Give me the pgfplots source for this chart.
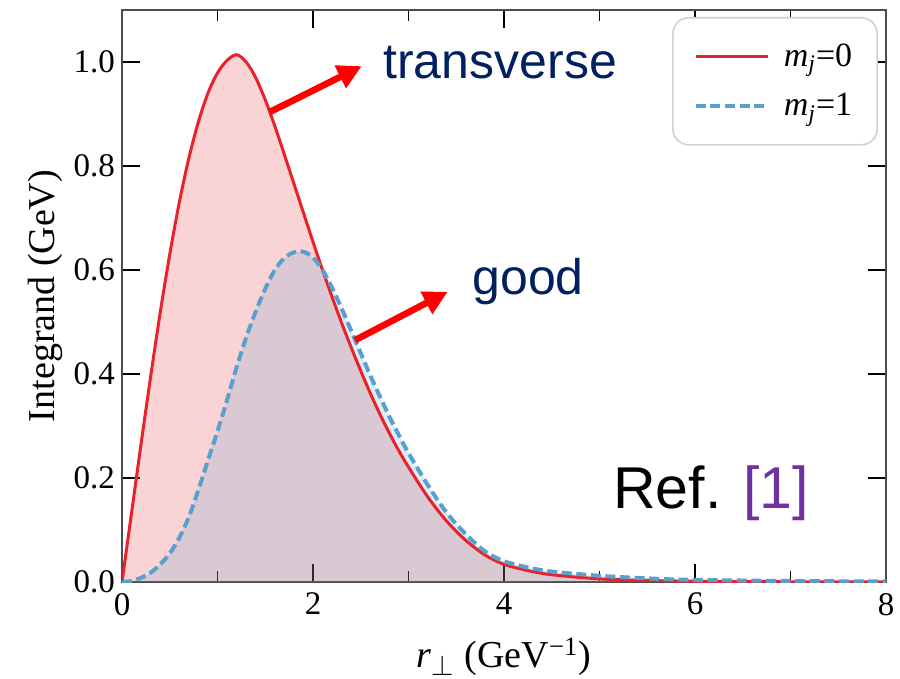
\documentclass[border=0pt]{standalone}
\usepackage{fontspec}
\setmainfont{Liberation Serif}
\newfontfamily\annofont{Liberation Sans}
\usepackage{pgfplots}
\pgfplotsset{compat=1.18}
\usepackage{pgfplotstable}
\usetikzlibrary{arrows.meta}

\definecolor{mjzero}{HTML}{E8212B}
\definecolor{mjone}{HTML}{5AA0CF}
\definecolor{navy}{HTML}{002060}
\definecolor{refpurple}{HTML}{7030A0}

% integrand for m_j = 0 (transverse)
\pgfplotstableread{
r v
0.0 0.000
0.1 0.133
0.2 0.266
0.3 0.395
0.4 0.518
0.5 0.630
0.6 0.730
0.7 0.815
0.8 0.885
0.9 0.940
1.0 0.979
1.1 1.003
1.2 1.014
1.3 1.000
1.4 0.970
1.5 0.927
1.6 0.877
1.7 0.822
1.8 0.766
1.9 0.710
2.0 0.654
2.1 0.600
2.2 0.548
2.3 0.498
2.4 0.451
2.5 0.406
2.6 0.363
2.7 0.323
2.8 0.286
2.9 0.252
3.0 0.221
3.2 0.164
3.4 0.117
3.6 0.080
3.8 0.052
4.0 0.034
4.25 0.022
4.5 0.014
5.0 0.006
5.5 0.003
6.0 0.0015
7.0 0.0004
8.0 0.0001
}\redtab

% integrand for m_j = 1 (good)
\pgfplotstableread{
r v
0.0 0.000
0.1 0.002
0.2 0.008
0.3 0.018
0.4 0.034
0.5 0.055
0.6 0.085
0.7 0.125
0.8 0.177
0.9 0.234
1.0 0.290
1.1 0.350
1.2 0.413
1.3 0.470
1.4 0.520
1.5 0.564
1.6 0.600
1.7 0.623
1.8 0.634
1.9 0.635
2.0 0.624
2.1 0.600
2.2 0.566
2.3 0.526
2.4 0.483
2.5 0.440
2.6 0.397
2.7 0.357
2.8 0.318
2.9 0.282
3.0 0.248
3.2 0.187
3.4 0.133
3.6 0.092
3.8 0.059
4.0 0.040
4.25 0.028
4.5 0.020
5.0 0.012
5.5 0.007
6.0 0.004
7.0 0.002
8.0 0.001
}\bluetab

\begin{document}
\begin{tikzpicture}
\begin{axis}[
  name=ax,
  scale only axis,
  width=382pt, height=286pt,
  xmin=0, xmax=8, ymin=0, ymax=1.1,
  xtick={0,2,4,6,8},
  minor xtick={1,3,5,7},
  ytick={0,0.2,0.4,0.6,0.8,1.0},
  tick align=inside,
  major tick length=9pt,
  minor tick length=5.5pt,
  every tick/.style={black, line width=0.9pt},
  axis line style={line width=1.3pt, draw=black!70},
  /pgf/number format/assume math mode=true,
  yticklabel style={/pgf/number format/fixed, /pgf/number format/fixed zerofill, /pgf/number format/precision=1},
  tick label style={font=\fontsize{16.5}{18}\selectfont},
  xticklabel style={yshift=-2pt},
  xlabel={\textit{r}\textsubscript{$\perp$} (GeV\textsuperscript{−1})},
  xlabel style={at={(axis description cs:0.5,-0.150)}, anchor=base, font=\fontsize{19}{22}\selectfont},
  ylabel={Integrand (GeV)},
  ylabel style={at={(axis description cs:-0.069,0.5)}, anchor=south, rotate=0, font=\fontsize{19}{22}\selectfont},
  legend style={at={(axis description cs:0.9895,0.9878)}, anchor=north east,
    draw=black!18, line width=0.8pt, rounded corners=8pt,
    font=\fontsize{17}{20}\selectfont,
    inner xsep=10.5pt, inner ysep=11pt, row sep=8pt,
    /tikz/every odd column/.style={column sep=5pt},
    cells={anchor=west}},
  legend image code/.code={\draw[#1] (0pt,0pt) -- (36pt,0pt);},
]
% shaded areas under both curves
\addplot[draw=none, fill=mjzero, fill opacity=0.2, smooth, forget plot] table[x=r, y=v]{\redtab} \closedcycle;
\addplot[draw=none, fill=mjone, fill opacity=0.2, smooth, forget plot] table[x=r, y=v]{\bluetab} \closedcycle;
% curves
\addplot[mjzero, line width=1.5pt, smooth] table[x=r, y=v]{\redtab};
\addlegendentry{\textit{m}\textsubscript{\textit{j}}=0}
\addplot[mjone, line width=2pt, dash pattern=on 5pt off 2.3pt, smooth] table[x=r, y=v]{\bluetab};
\addlegendentry{\textit{m}\textsubscript{\textit{j}}=1}

% annotations
\draw[red, line width=3.3pt, -{Triangle[length=12pt, width=12pt]}] (axis cs:1.55,0.904) -- (axis cs:2.51,0.992);
\node[anchor=base west, inner sep=0pt, text=navy, font=\annofont\fontsize{25}{30}\selectfont] at (axis cs:2.733,0.969) {transverse};
\draw[red, line width=3.3pt, -{Triangle[length=12pt, width=12pt]}] (axis cs:2.44,0.465) -- (axis cs:3.41,0.558);
\node[anchor=base west, inner sep=0pt, text=navy, font=\annofont\fontsize{25}{30}\selectfont] at (axis cs:3.665,0.552) {good};
\node[anchor=base west, inner sep=0pt, font=\annofont\fontsize{29.5}{34}\selectfont] at (axis cs:5.14,0.142) {Ref. \textcolor{refpurple}{[1]}};
\end{axis}
\pgfresetboundingbox
\path ([shift={(-61pt,-48pt)}]ax.south west) rectangle ([shift={(7pt,5pt)}]ax.north east);
\end{tikzpicture}
\end{document}
